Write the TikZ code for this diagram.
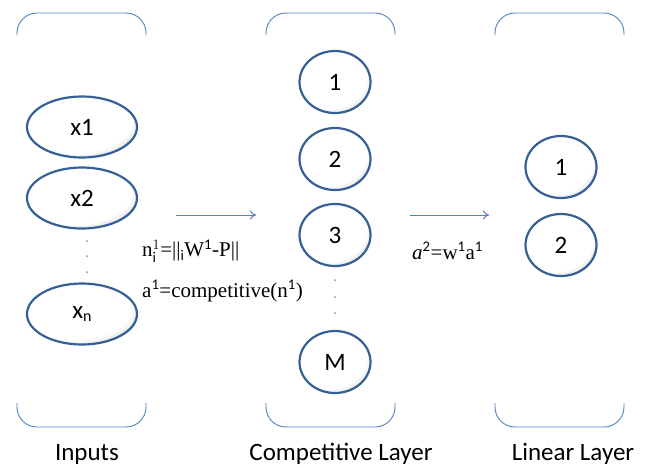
\documentclass[tikz,border=0pt]{standalone}
\usepackage{fontspec}
\setmainfont{Carlito}
\newfontfamily\formulafont{Liberation Serif}
\usetikzlibrary{arrows.meta,shapes.geometric}

\definecolor{accentblue}{RGB}{79,129,189}
\definecolor{rimblue}{RGB}{52,96,150}
\definecolor{dotorange}{RGB}{196,128,70}

% white body fading to grey towards the lower right
\pgfdeclareradialshading{neuronshade}{\pgfpoint{-8bp}{10bp}}{%
  color(0bp)=(white); color(27bp)=(white); color(38bp)=(black!30);
  color(48bp)=(black!70); color(60bp)=(black!80)}

\tikzset{
  neuron/.style={ellipse, draw=rimblue, line width=2.2pt,
    shading=neuronshade, inner sep=0pt, font=\fontsize{25}{25}\selectfont},
  wide/.style={neuron, minimum width=110pt, minimum height=61pt},
  round/.style={neuron, minimum width=71pt, minimum height=62pt},
  bracket/.style={draw=accentblue, line width=0.9pt, rounded corners=20pt},
  flow/.style={draw=accentblue, line width=1pt, -{To[length=6pt,width=9pt]}},
  layerlabel/.style={font=\fontsize{25}{25}\selectfont},
  formula/.style={font=\formulafont\fontsize{21}{21}\selectfont, anchor=west, inner sep=0pt},
  dotmark/.style={circle, fill=dotorange, inner sep=0pt, minimum size=2pt}
}

\begin{document}
\begin{tikzpicture}[x=1pt, y=-1pt]
\useasboundingbox (0,0) rectangle (647,467);

% layer brackets, top and bottom
\foreach \l/\r in {17/146, 266/395, 495/624} {
  \draw[bracket] (\l,35) -- (\l,13) -- (\r,13) -- (\r,35);
  \draw[bracket] (\l,403) -- (\l,427) -- (\r,427) -- (\r,403);
}

% input layer
\node[wide] (x1) at (82,127) {x1};
\node[wide] (x2) at (82,198) {x2};
\node[wide] (xn) at (82,314) {x\raisebox{-0.2ex}{\fontsize{16}{16}\selectfont n}};
\node[dotmark] (idot1) at (87,241) {};
\node[dotmark] (idot2) at (87,256) {};
\node[dotmark] (idot3) at (87,272) {};

% competitive layer
\node[round] (c1) at (335,82) {1};
\node[round] (c2) at (335,159) {2};
\node[round] (c3) at (335,235) {3};
\node[round] (cM) at (335,362) {M};
\node[dotmark] (cdot1) at (335,280) {};
\node[dotmark] (cdot2) at (335,297) {};
\node[dotmark] (cdot3) at (335,313) {};

% linear layer
\node[round] (l1) at (561,167) {1};
\node[round] (l2) at (561,245) {2};

% transfer arrows
\coordinate (a1s) at (176,215);
\coordinate (a1e) at (256,215);
\coordinate (a2s) at (410,215);
\coordinate (a2e) at (489,215);
\draw[flow] (a1s) -- (a1e);
\draw[flow] (a2s) -- (a2e);

% layer equations
\node[formula] (eqn) at (142,251) {n$^{\scriptstyle 1}_{\scriptstyle\mathrm{i}}$=||$_{\mathrm{i}}$W$^{\mathrm{1}}$-P||};
\node[formula] (eqa) at (142,291) {a$^{\mathrm{1}}$=competitive(n$^{\mathrm{1}}$)};
\node[formula] (eqw) at (412,251) {\textit{a}$^{\mathrm{2}}$=w$^{\mathrm{1}}$a$^{\mathrm{1}}$};

% layer names
\node[layerlabel] (lin) at (87,454) {Inputs};
\node[layerlabel] (lcomp) at (341,454) {Competitive Layer};
\node[layerlabel] (llin) at (573,454) {Linear Layer};
\end{tikzpicture}
\end{document}
